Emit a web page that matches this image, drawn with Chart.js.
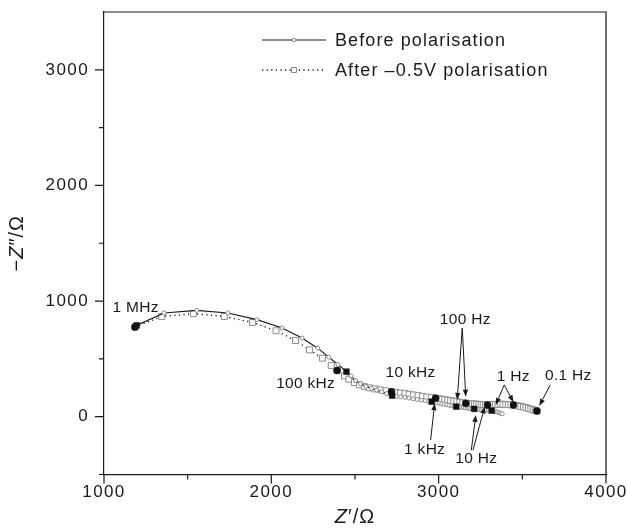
<!DOCTYPE html>
<html>
<head>
<meta charset="utf-8">
<script src="https://cdn.jsdelivr.net/npm/chart.js@4/dist/chart.umd.min.js"></script>
<style>
  html, body { margin: 0; padding: 0; background: #fff; }
  #wrap { width: 627px; height: 529px; }
</style>
</head>
<body>
<div id="wrap"><canvas id="nyquist" width="627" height="529"></canvas></div>
<script>
// Nyquist data (Z' and -Z'' in ohm)
const beforeZre = [
  1195, 1359, 1555, 1740, 1914, 2064, 2184, 2277, 2343, 2398,
  2449, 2477, 2503, 2532, 2565, 2598, 2630, 2660, 2690, 2710,
  2722, 2748, 2773, 2798, 2822, 2847, 2872, 2896, 2920, 2940,
  2958, 2973, 2988, 3003, 3018, 3033, 3048, 3062, 3077, 3091,
  3105, 3116, 3127, 3138, 3148, 3159, 3170, 3180, 3191, 3201,
  3212, 3222, 3233, 3243, 3254, 3264, 3275, 3285, 3296, 3306,
  3317, 3328, 3339, 3350, 3360, 3370, 3380,
];
const beforeZim = [
  790, 897, 919, 897, 839, 767, 680, 593, 515, 452,
  390, 353, 312, 285, 262, 245, 230, 215, 200, 192,
  182, 177, 172, 167, 161, 155, 149, 143, 138, 134,
  130, 126, 121, 117, 112, 108, 103, 99, 95, 91,
  87, 85, 83, 81, 79, 77, 75, 73, 71, 69,
  67, 66, 64, 63, 61, 60, 58, 57, 55, 54,
  52, 49, 45, 40, 35, 30, 25,
];
const afterZre = [
  1185, 1345, 1535, 1719, 1888, 2028, 2144, 2228, 2305, 2358,
  2393, 2437, 2463, 2497, 2527, 2557, 2587, 2620, 2652, 2685,
  2718, 2745, 2771, 2798, 2824, 2850, 2877, 2903, 2929, 2956,
  2982, 3000, 3018, 3036, 3054, 3072, 3090, 3108, 3126, 3144,
  3162, 3175, 3188, 3201, 3214, 3227, 3240, 3253, 3266, 3279,
  3292, 3308, 3323, 3339, 3354, 3370, 3385, 3401, 3416, 3432,
  3447, 3462, 3477, 3492, 3507, 3522, 3537, 3551, 3565, 3577,
  3587,
];
const afterZim = [
  775, 867, 891, 867, 815, 743, 659, 578, 506, 442,
  400, 353, 324, 295, 275, 260, 249, 240, 232, 224,
  215, 210, 205, 200, 194, 188, 182, 176, 170, 165,
  160, 156, 152, 147, 143, 139, 134, 130, 125, 120,
  116, 114, 113, 111, 110, 108, 106, 105, 103, 102,
  101, 102, 104, 106, 107, 108, 107, 106, 104, 103,
  101, 97, 93, 88, 83, 78, 72, 66, 60, 54,
  49,
];

// frequency-decade points (filled markers)
const beforeDecZre = [1195, 2449, 2722, 2958, 3105, 3212, 3317];
const beforeDecZim = [790, 390, 182, 130, 87, 67, 52];
const afterDecZre = [1185, 2393, 2718, 2982, 3162, 3292, 3447, 3587];
const afterDecZim = [775, 400, 215, 160, 116, 101, 101, 49];

// axes
const xMajor = [1000, 2000, 3000, 4000];
const xMinor = [1500, 2500, 3500];
const yMajor = [0, 1000, 2000, 3000];
const yMinor = [-500, 500, 1500, 2500];

// frequency annotations
const freqLabels = ["1 MHz", "100 kHz", "10 kHz", "1 kHz", "100 Hz", "10 Hz", "1 Hz", "0.1 Hz"];
const freqLabelZre = [1189, 2205, 2832, 2916, 3159, 3225, 3446, 3775];
const freqLabelZim = [947, 290, 392, -275, 847, -354, 353, 366];
const arrowFrom = [[2952, -202], [3141, 767], [3141, 767], [3195, -290], [3205, -290], [3392, 275], [3392, 275], [3667, 275]];
const arrowTo = [[2976, 116], [3111, 145], [3162, 173], [3222, 15], [3275, 87], [3341, 101], [3447, 125], [3601, 93]];

const seriesNames = ["Before polarisation", "After \u20130.5V polarisation"];

const toPoints = (xs, ys) => xs.map((v, i) => ({ x: v, y: ys[i] }));
const FONT = "'Liberation Sans', Arial, Helvetica, sans-serif";
const INK = "#1a1a1a";

const decorPlugin = {
  id: "decor",
  beforeDraw(chart) {
    chart.ctx.letterSpacing = "1.4px";
  },
  afterDraw(chart) {
    const { ctx, chartArea: a, scales } = chart;
    const x = scales.x, y = scales.y;
    ctx.save();
    ctx.strokeStyle = INK;
    ctx.lineWidth = 1.2;

    // top and right frame
    ctx.beginPath();
    ctx.moveTo(a.left, a.top);
    ctx.lineTo(a.right, a.top);
    ctx.lineTo(a.right, a.bottom);
    ctx.stroke();

    // outward ticks
    ctx.beginPath();
    xMajor.forEach((v) => { const px = x.getPixelForValue(v); ctx.moveTo(px, a.bottom); ctx.lineTo(px, a.bottom + 9); });
    xMinor.forEach((v) => { const px = x.getPixelForValue(v); ctx.moveTo(px, a.bottom); ctx.lineTo(px, a.bottom + 5); });
    yMajor.forEach((v) => { const py = y.getPixelForValue(v); ctx.moveTo(a.left, py); ctx.lineTo(a.left - 9, py); });
    yMinor.forEach((v) => { const py = y.getPixelForValue(v); ctx.moveTo(a.left, py); ctx.lineTo(a.left - 5, py); });
    ctx.stroke();

    // axis titles, italic Z
    ctx.fillStyle = INK;
    ctx.textBaseline = "middle";
    ctx.textAlign = "left";
    ctx.letterSpacing = "1px";
    const drawParts = (parts, cx, cy) => {
      let w = 0;
      parts.forEach((p) => { ctx.font = p[1] + " 20px " + FONT; w += ctx.measureText(p[0]).width; });
      let cur = cx - w / 2;
      parts.forEach((p) => {
        ctx.font = p[1] + " 20px " + FONT;
        ctx.fillText(p[0], cur, cy);
        cur += ctx.measureText(p[0]).width;
      });
    };
    drawParts([["Z", "italic"], ["\u2032/\u03A9", "normal"]], (a.left + a.right) / 2, 517);
    ctx.save();
    ctx.translate(17, (a.top + a.bottom) / 2);
    ctx.rotate(-Math.PI / 2);
    drawParts([["\u2212", "normal"], ["Z", "italic"], ["\u2033/\u03A9", "normal"]], 0, 0);
    ctx.restore();

    // legend
    const ds = chart.data.datasets;
    const rows = [ds[2], ds[3]];
    const rowY = [40, 70];
    rows.forEach((d, i) => {
      const ly = rowY[i];
      ctx.save();
      ctx.strokeStyle = d.borderColor;
      ctx.lineWidth = d.borderWidth;
      ctx.setLineDash(d.borderDash || []);
      ctx.beginPath();
      ctx.moveTo(262, ly);
      ctx.lineTo(326, ly);
      ctx.stroke();
      ctx.restore();
      ctx.save();
      ctx.strokeStyle = d.pointBorderColor;
      ctx.fillStyle = "#fff";
      ctx.lineWidth = 1;
      ctx.beginPath();
      if (i === 0) ctx.arc(294, ly, 1.8, 0, Math.PI * 2);
      else ctx.rect(291.5, ly - 2.5, 5, 5);
      ctx.fill();
      ctx.stroke();
      ctx.restore();
      ctx.font = "18px " + FONT;
      ctx.letterSpacing = "1.1px";
      ctx.fillStyle = INK;
      ctx.fillText(d.label, 335, ly + 1);
    });

    // frequency labels and arrows
    ctx.font = "15.5px " + FONT;
    ctx.letterSpacing = "0.3px";
    ctx.textAlign = "center";
    freqLabels.forEach((t, i) => {
      ctx.fillText(t, x.getPixelForValue(freqLabelZre[i]), y.getPixelForValue(freqLabelZim[i]) + 1);
    });
    ctx.lineWidth = 1;
    arrowFrom.forEach((f, i) => {
      const x1 = x.getPixelForValue(f[0]), y1 = y.getPixelForValue(f[1]);
      const x2 = x.getPixelForValue(arrowTo[i][0]), y2 = y.getPixelForValue(arrowTo[i][1]);
      const ang = Math.atan2(y2 - y1, x2 - x1);
      const hl = 7, hw = 2.6;
      const bx = x2 - hl * Math.cos(ang), by = y2 - hl * Math.sin(ang);
      ctx.beginPath();
      ctx.moveTo(x1, y1);
      ctx.lineTo(bx, by);
      ctx.stroke();
      ctx.beginPath();
      ctx.moveTo(x2, y2);
      ctx.lineTo(bx + hw * Math.sin(ang), by - hw * Math.cos(ang));
      ctx.lineTo(bx - hw * Math.sin(ang), by + hw * Math.cos(ang));
      ctx.closePath();
      ctx.fill();
    });
    ctx.restore();
  },
};

new Chart(document.getElementById("nyquist"), {
  type: "scatter",
  data: {
    datasets: [
      {
        label: "before decades",
        data: toPoints(beforeDecZre, beforeDecZim),
        pointStyle: "rect",
        pointRadius: 4,
        pointBackgroundColor: "#111",
        pointBorderColor: "#111",
        pointBorderWidth: 0.5,
        showLine: false,
      },
      {
        label: "after decades",
        data: toPoints(afterDecZre, afterDecZim),
        pointStyle: "circle",
        pointRadius: 3.5,
        pointBackgroundColor: "#111",
        pointBorderColor: "#111",
        pointBorderWidth: 0.5,
        showLine: false,
      },
      {
        label: seriesNames[0],
        data: toPoints(beforeZre, beforeZim),
        showLine: true,
        borderColor: "#1a1a1a",
        borderWidth: 1.2,
        pointStyle: "circle",
        pointRadius: 2,
        pointBackgroundColor: "#fff",
        pointBorderColor: "#8c8c8c",
        pointBorderWidth: 1,
      },
      {
        label: seriesNames[1],
        data: toPoints(afterZre, afterZim),
        showLine: true,
        borderColor: "#1a1a1a",
        borderWidth: 1.4,
        borderDash: [1.2, 3.4],
        pointStyle: "rect",
        pointRadius: 4.2,
        pointBackgroundColor: "#fff",
        pointBorderColor: "#8c8c8c",
        pointBorderWidth: 1,
      },
    ],
  },
  options: {
    responsive: false,
    animation: false,
    layout: { padding: { left: 0, top: 12, right: 21, bottom: 0 } },
    plugins: {
      legend: { display: false },
      tooltip: { enabled: false },
    },
    scales: {
      x: {
        type: "linear",
        min: 1000,
        max: 4000,
        afterBuildTicks: (s) => { s.ticks = xMajor.map((v) => ({ value: v })); },
        afterFit: (s) => { s.height = 54.5; s.paddingLeft = 0; s.paddingRight = 0; },
        grid: { display: false, drawTicks: false },
        border: { display: true, color: INK, width: 1.2 },
        ticks: { color: INK, padding: 8, maxRotation: 0, font: { family: FONT, size: 17 }, callback: (v) => String(v) },
      },
      y: {
        type: "linear",
        min: -500,
        max: 3500,
        afterBuildTicks: (s) => { s.ticks = yMajor.map((v) => ({ value: v })); },
        afterFit: (s) => { s.width = 104; s.paddingTop = 0; s.paddingBottom = 0; },
        grid: { display: false, drawTicks: false },
        border: { display: true, color: INK, width: 1.2 },
        ticks: { color: INK, padding: 15, font: { family: FONT, size: 17 }, callback: (v) => String(v) },
      },
    },
  },
  plugins: [decorPlugin],
});
</script>
</body>
</html>
